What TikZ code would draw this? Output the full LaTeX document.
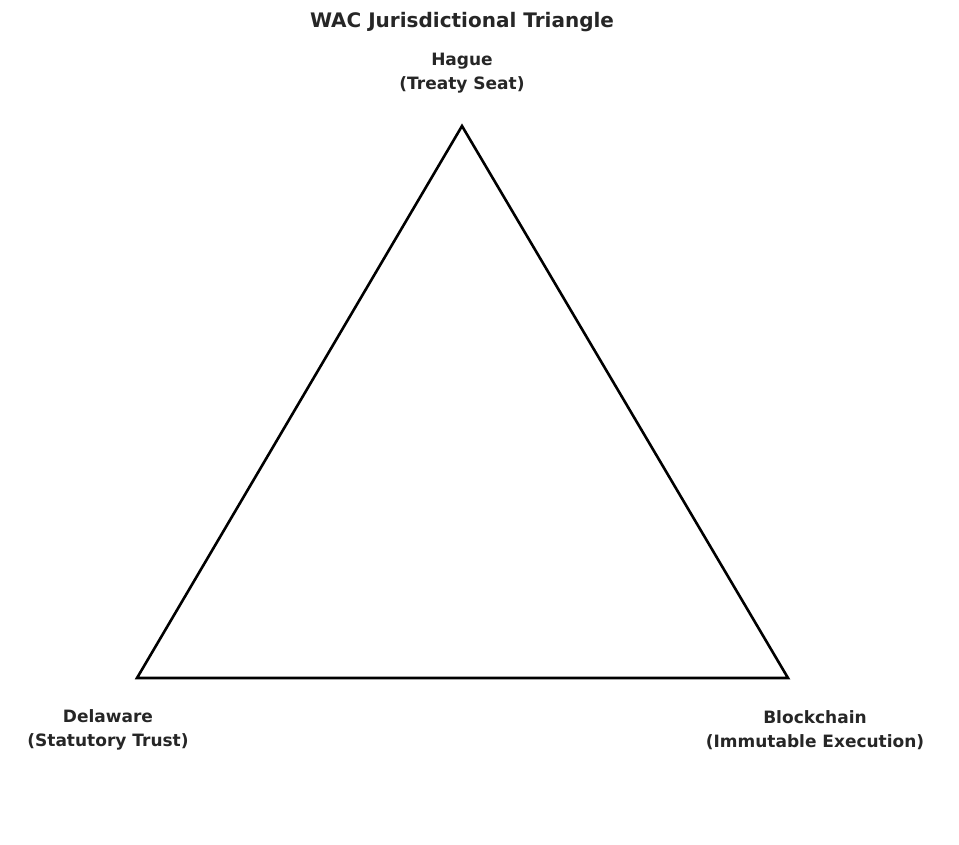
\documentclass[tikz,border=0pt]{standalone}
\usepackage{fontspec}
\setmainfont{DejaVu Sans}
\usetikzlibrary{positioning}
\begin{document}
\begin{tikzpicture}[x=1pt,y=-1pt]

    % label and edge looks
    \tikzset{
        corner/.style={font=\bfseries\fontsize{17}{24}\selectfont,
            text=black!85, align=center, inner sep=0pt},
        edge/.style={line width=2.6pt, black, line join=miter}
    }

    \useasboundingbox (0,0) rectangle (959,844);

    \node (title) at (462,22)
    {\bfseries\fontsize{20}{24}\selectfont\color{black!85}WAC Jurisdictional Triangle};

    % corners of the triangle
    \coordinate (hague) at (462,126);
    \coordinate (delaware) at (137,678);
    \coordinate (chain) at (788,678);

    \node[corner] (hagueL) at (462,73) {Hague\\(Treaty Seat)};
    \node[corner] (delawareL) at (108,730) {Delaware\\(Statutory Trust)};
    \node[corner] (chainL) at (815,730) {Blockchain\\(Immutable Execution)};

    \draw[edge] (hague) -- (delaware) -- (chain) -- cycle;

\end{tikzpicture}
\end{document}
